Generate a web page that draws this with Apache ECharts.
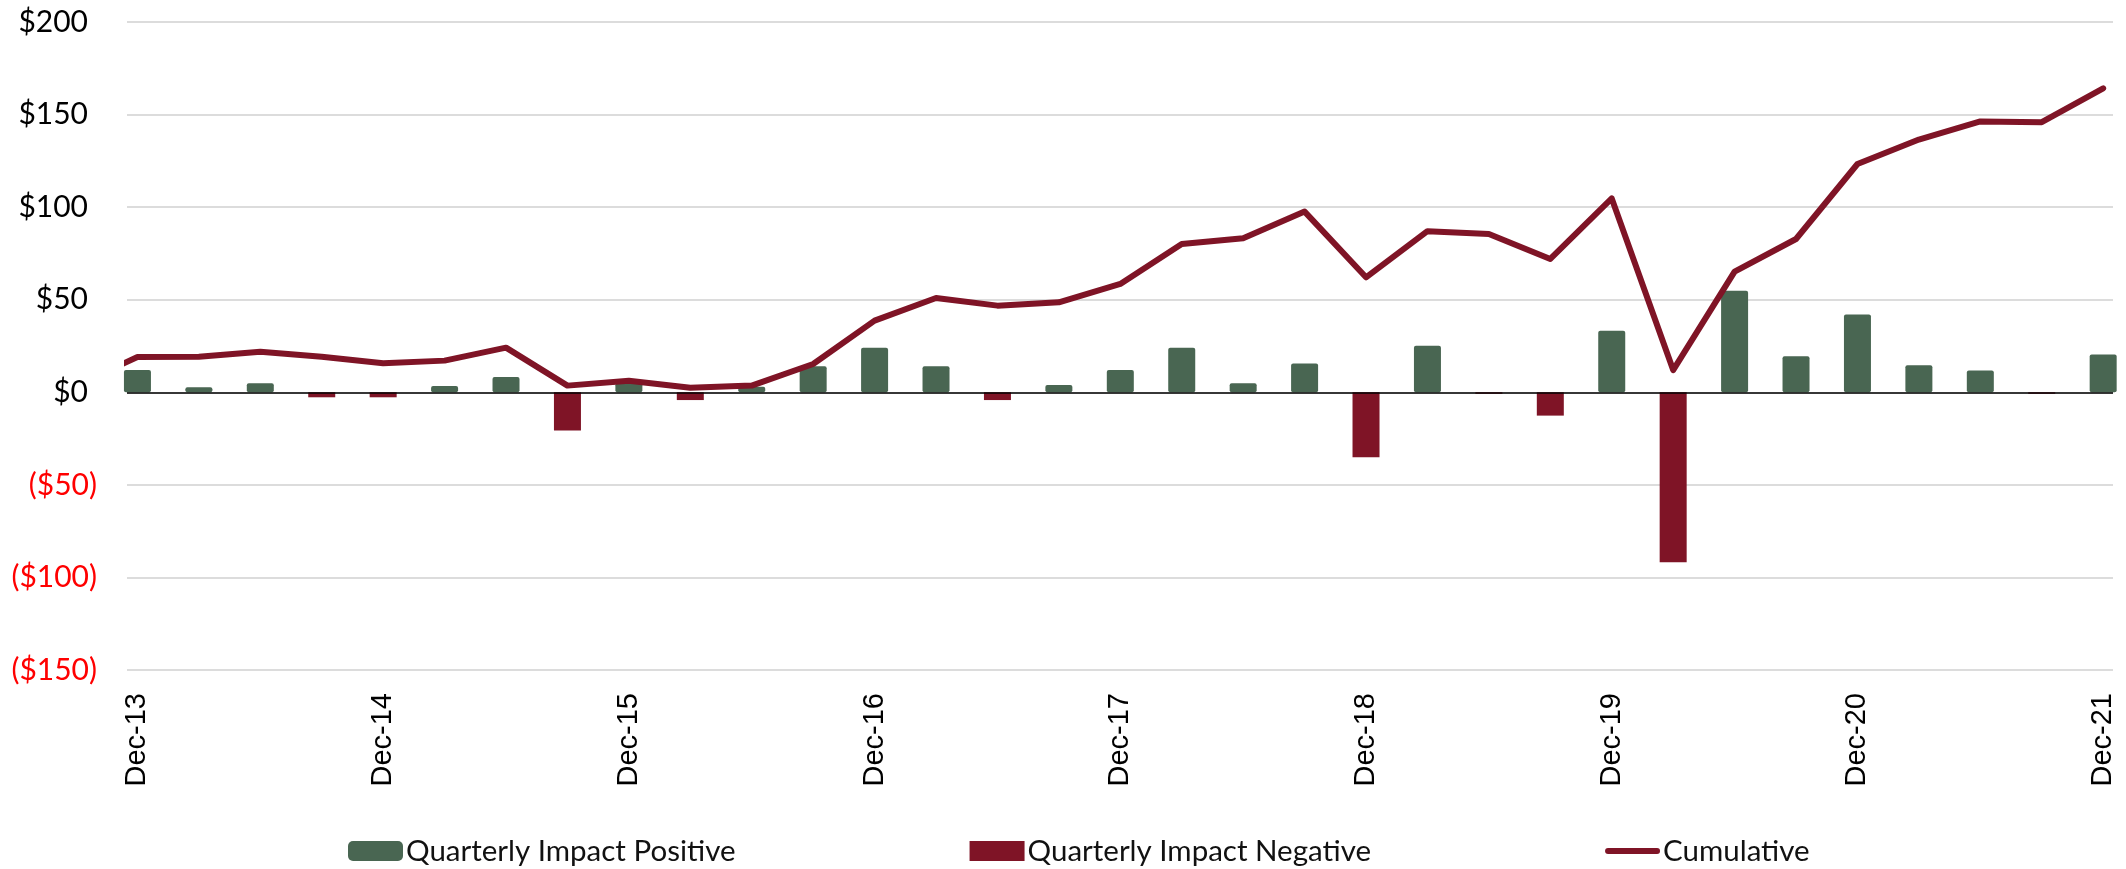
<!DOCTYPE html>
<html>
<head>
<meta charset="utf-8">
<style>
  html, body { margin: 0; padding: 0; background: #fff; }
  #chart { width: 2126px; height: 869px; }
</style>
<script src="https://cdn.jsdelivr.net/npm/echarts@6/dist/echarts.min.js"></script>
</head>
<body>
<div id="chart"></div>
<script>
// quarters, first one (Sep-13) sits just outside the plot on the left
const quarters = ['Sep-13',
  'Dec-13', 'Mar-14', 'Jun-14', 'Sep-14', 'Dec-14', 'Mar-15', 'Jun-15', 'Sep-15',
  'Dec-15', 'Mar-16', 'Jun-16', 'Sep-16', 'Dec-16', 'Mar-17', 'Jun-17', 'Sep-17',
  'Dec-17', 'Mar-18', 'Jun-18', 'Sep-18', 'Dec-18', 'Mar-19', 'Jun-19', 'Sep-19',
  'Dec-19', 'Mar-20', 'Jun-20', 'Sep-20', 'Dec-20', 'Mar-21', 'Jun-21', 'Sep-21',
  'Dec-21']

// quarterly impact (signed)
const quarterly = [null,
  12.0, 2.7, 4.9, -2.7, -2.7, 3.4, 8.3, -20.7,
  4.9, -4.2, 3.0, 14.0, 24.1, 14.0, -4.2, 3.9,
  12.0, 24.1, 4.9, 15.5, -35.1, 25.2, -0.8, -12.6,
  33.3, -91.8, 54.9, 19.4, 42.0, 14.6, 11.8, -0.8,
  20.4]

const cumulative = [4,
  19.0, 19.2, 21.9, 19.2, 15.7, 17.1, 24.1, 3.6,
  6.2, 2.5, 3.6, 15.3, 38.7, 50.9, 46.8, 48.6,
  58.5, 80.1, 83.2, 97.6, 62.1, 87.0, 85.5, 72.0,
  104.7, 12.0, 65.2, 82.8, 123.3, 136.5, 146.3, 145.9,
  164.2]

const yTicks = [-150, -100, -50, 0, 50, 100, 150, 200]
const xLabelIdx = [0, 4, 8, 12, 16, 20, 24, 28, 32]

const GREEN = '#496652'
const RED = '#7f1426'

// x position: Dec-13 = 0
const xOf = i => i - 1
const positive = quarterly.map((v, i) => [xOf(i), v != null && v > 0 ? v : null]).filter(d => d[1] != null)
const negative = quarterly.map((v, i) => [xOf(i), v != null && v < 0 ? v : null]).filter(d => d[1] != null)
const cumData = cumulative.map((v, i) => [xOf(i), v])

const chart = echarts.init(document.getElementById('chart'))

// excel style "$#,##0_);($#,##0)" -> positives keep room for the ")"
const fmtMoney = v => v < 0 ? '{n|($' + (-v) + ')}' : '{p|$' + v + '}'

const option = {
  animation: false,
  grid: { left: 127, right: 13, top: 22, bottom: 199, containLabel: false },
  legend: {
    left: 343,
    top: 831,
    itemWidth: 55,
    itemHeight: 20,
    itemGap: 234,
    textStyle: { fontFamily: 'Lato', fontSize: 29.5, color: '#111', padding: [0, 0, 0, -2] },
    data: [
      { name: 'Quarterly Impact Positive', icon: 'roundRect' },
      { name: 'Quarterly Impact Negative', icon: 'rect' },
      { name: 'Cumulative', icon: 'path://M3,0 H52 A3,3 0 0 1 52,6 H3 A3,3 0 0 1 3,0 Z' }
    ]
  },
  xAxis: {
    type: 'value',
    min: -0.17,
    max: 32.16,
    axisLine: { show: false, onZero: false },
    axisTick: { show: false },
    splitLine: { show: false },
    axisLabel: {
      customValues: xLabelIdx,
      rotate: 90,
      margin: 23,
      fontFamily: 'Liberation Sans',
      fontSize: 29,
      color: '#000',
      formatter: v => quarters[Math.round(v) + 1]
    }
  },
  yAxis: {
    type: 'value',
    min: yTicks[0],
    max: yTicks[yTicks.length - 1],
    interval: 50,
    axisLine: { show: false },
    axisTick: { show: false },
    splitLine: { lineStyle: { color: '#dcdcdc', width: 2 } },
    axisLabel: {
      margin: 30,
      formatter: fmtMoney,
      rich: {
        p: { fontFamily: 'Lato', fontSize: 30, color: '#000', padding: [0, 9, 0, 0] },
        n: { fontFamily: 'Lato', fontSize: 30, color: '#ff0000' }
      }
    }
  },
  series: [
    {
      name: 'Quarterly Impact Positive',
      type: 'bar',
      data: positive,
      barWidth: 27,
      barGap: '-100%',
      itemStyle: { color: GREEN, borderRadius: 2 }
    },
    {
      name: 'Quarterly Impact Negative',
      type: 'bar',
      data: negative,
      barWidth: 27,
      barGap: '-100%',
      itemStyle: { color: RED }
    },
    {
      name: 'Cumulative',
      type: 'line',
      data: cumData,
      symbol: 'none',
      itemStyle: { color: RED },
      lineStyle: { color: RED, width: 6, cap: 'round', join: 'round' },
      z: 3,
      markLine: {
        silent: true,
        symbol: 'none',
        label: { show: false },
        lineStyle: { color: '#000', width: 1.5, type: 'solid' },
        data: [{ yAxis: 0 }]
      }
    }
  ]
}

chart.setOption(option)
</script>
</body>
</html>
